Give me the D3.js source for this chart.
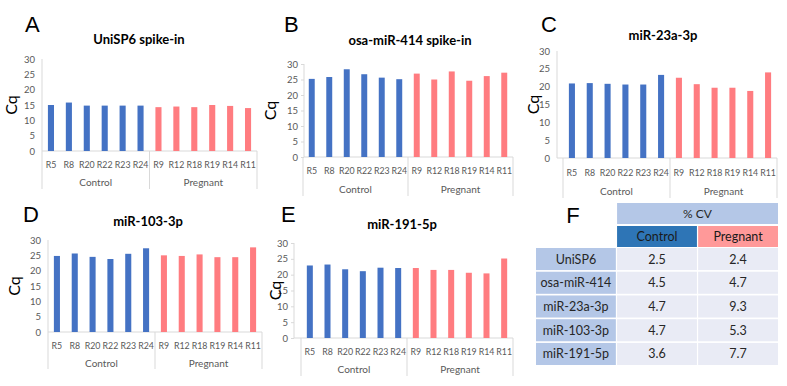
<!DOCTYPE html>
<html>
<head>
<meta charset="utf-8">
<script src="https://cdn.jsdelivr.net/npm/d3@7"></script>
<style>
  body { margin: 0; background: #fff; }
  svg { display: block; }
</style>
</head>
<body>
<div id="chart"></div>
<script>
const width = 787;
const height = 386;

// samples, in display order
const samples = ['R5', 'R8', 'R20', 'R22', 'R23', 'R24', 'R9', 'R12', 'R18', 'R19', 'R14', 'R11'];
const groups = ['Control', 'Pregnant'];
const yTicks = [0, 5, 10, 15, 20, 25, 30];

// Cq values
const uniSP6 = [15.0, 15.8, 14.8, 14.8, 14.8, 14.8, 14.3, 14.5, 14.3, 15.0, 14.7, 14.0];
const osa414 = [25.2, 25.8, 28.3, 26.7, 25.6, 25.1, 26.9, 25.0, 27.6, 24.6, 26.1, 27.2];
const mir23a = [20.9, 21.0, 20.8, 20.6, 20.6, 23.3, 22.5, 20.7, 19.7, 19.7, 18.8, 24.0];
const mir103 = [24.8, 25.6, 24.5, 23.8, 25.5, 27.3, 25.0, 24.8, 25.3, 24.4, 24.4, 27.6];
const mir191 = [22.9, 23.2, 21.7, 21.1, 22.2, 22.1, 22.1, 21.5, 21.5, 20.6, 20.4, 25.1];

// % CV table
const cvRows = ['UniSP6', 'osa-miR-414', 'miR-23a-3p', 'miR-103-3p', 'miR-191-5p'];
const cvControl = ['2.5', '4.5', '4.7', '4.7', '3.6'];
const cvPregnant = ['2.4', '4.7', '9.3', '5.3', '7.7'];

const blue = '#4472C4';
const red = '#FF7C80';
const gridGray = '#D9D9D9';
const textGray = '#595959';
const font = 'Lato, "Open Sans", sans-serif';

const panels = [
  {letter: 'A', title: 'UniSP6 spike-in', values: uniSP6, axisX: 42, band: [42, 257], y: [151, 59], cqX: 13,
   titleX: 139, titleY: 44, letterX: 25, letterY: 32, catY: 168, grpY: 186, sepBottom: 189, ticks: 0},
  {letter: 'B', title: 'osa-miR-414 spike-in', values: osa414, axisX: 304, band: [303, 513], y: [157, 64], cqX: 272,
   titleX: 410, titleY: 45, letterX: 284, letterY: 32, catY: 174, grpY: 193, sepBottom: 196, ticks: 3},
  {letter: 'C', title: 'miR-23a-3p', values: mir23a, axisX: 557, band: [563, 777], y: [158, 51], cqX: 535,
   titleX: 663, titleY: 40, letterX: 541, letterY: 32, catY: 176, grpY: 195, sepBottom: 198, ticks: 0},
  {letter: 'D', title: 'miR-103-3p', values: mir103, axisX: 48, band: [48, 262], y: [332, 240], cqX: 16,
   titleX: 148, titleY: 226, letterX: 23, letterY: 222, catY: 349, grpY: 367, sepBottom: 369, ticks: 0},
  {letter: 'E', title: 'miR-191-5p', values: mir191, axisX: 294, band: [301, 513], y: [338, 243], cqX: 277,
   titleX: 402, titleY: 229, letterX: 281, letterY: 222, catY: 355, grpY: 373, sepBottom: 376, ticks: 3}
];

const svg = d3.select('#chart')
  .append('svg')
    .attr('width', width)
    .attr('height', height);

panels.forEach(p => {
  const g = svg.append('g');

  const x = d3.scaleBand()
      .domain(samples)
      .range(p.band)
      .paddingInner(0.66)
      .paddingOuter(0.33);

  const y = d3.scaleLinear()
      .domain([0, 30])
      .range(p.y);

  // y axis
  const yAxis = g.append('g')
      .attr('transform', `translate(${p.axisX},0)`)
      .call(d3.axisLeft(y).tickValues(yTicks).tickSize(p.ticks).tickPadding(p.ticks ? 3 : 7));
  yAxis.select('.domain').attr('stroke', gridGray).attr('d', `M0,${p.y[1]}V${p.y[0]}`);
  yAxis.selectAll('.tick line').attr('stroke', gridGray);
  yAxis.selectAll('.tick text')
      .attr('fill', textGray)
      .style('font', `9.5px ${font}`);

  // x axis line
  g.append('line')
      .attr('x1', p.axisX).attr('x2', p.band[1])
      .attr('y1', p.y[0]).attr('y2', p.y[0])
      .attr('stroke', gridGray);

  // group separators
  const mid = (p.band[0] + p.band[1]) / 2;
  [p.band[0], mid, p.band[1]].forEach(sx => {
    g.append('line')
        .attr('x1', sx).attr('x2', sx)
        .attr('y1', p.y[0]).attr('y2', p.sepBottom)
        .attr('stroke', gridGray);
  });

  // bars
  g.selectAll('rect.bar')
    .data(p.values)
    .join('rect')
      .attr('class', 'bar')
      .attr('x', (d, i) => x(samples[i]))
      .attr('width', x.bandwidth())
      .attr('y', d => y(d))
      .attr('height', d => y(0) - y(d))
      .attr('fill', (d, i) => i < 6 ? blue : red);

  // sample labels
  g.selectAll('text.cat')
    .data(samples)
    .join('text')
      .attr('class', 'cat')
      .attr('x', d => x(d) + x.bandwidth() / 2)
      .attr('y', p.catY)
      .attr('text-anchor', 'middle')
      .attr('fill', textGray)
      .style('font', `8.8px ${font}`)
      .text(d => d);

  // group labels
  g.selectAll('text.grp')
    .data(groups)
    .join('text')
      .attr('class', 'grp')
      .attr('x', (d, i) => i === 0 ? (p.band[0] + mid) / 2 : (mid + p.band[1]) / 2)
      .attr('y', p.grpY)
      .attr('text-anchor', 'middle')
      .attr('fill', textGray)
      .style('font', `10px ${font}`)
      .text(d => d);

  // Cq label
  g.append('text')
      .attr('transform', `translate(${p.cqX + 4},${(p.y[0] + p.y[1]) / 2}) rotate(-90)`)
      .attr('text-anchor', 'middle')
      .attr('fill', '#000')
      .style('font', `16px ${font}`)
      .text('Cq');

  // title
  g.append('text')
      .attr('x', p.titleX)
      .attr('y', p.titleY)
      .attr('text-anchor', 'middle')
      .attr('fill', '#000')
      .style('font', `bold 13px ${font}`)
      .text(p.title);

  // panel letter
  g.append('text')
      .attr('x', p.letterX)
      .attr('y', p.letterY)
      .attr('fill', '#000')
      .style('font', '22px "Liberation Sans", Arial, sans-serif')
      .text(p.letter);
});

// ---- table F ----
const t = svg.append('g');
const colX = d3.scaleBand()
    .domain(['label', 'Control', 'Pregnant'])
    .range([536, 778])
    .paddingInner(0.015);
const rowY = d3.scaleBand()
    .domain(cvRows)
    .range([248, 365])
    .paddingInner(0.07);

t.append('text')
    .attr('x', 573)
    .attr('y', 223)
    .attr('text-anchor', 'middle')
    .attr('fill', '#000')
    .style('font', '22px "Liberation Sans", Arial, sans-serif')
    .text('F');

// % CV header
t.append('rect')
    .attr('x', colX('Control'))
    .attr('y', 203)
    .attr('width', colX('Pregnant') + colX.bandwidth() - colX('Control'))
    .attr('height', 21)
    .attr('fill', '#B4C7E7');
t.append('text')
    .attr('x', colX('Control') + colX.bandwidth() + colX.step() * 0.0075)
    .attr('y', 218)
    .attr('text-anchor', 'middle')
    .attr('fill', '#262626')
    .style('font', `12px ${font}`)
    .text('% CV');

// group header
const headColors = {Control: '#2E75B6', Pregnant: '#FF9999'};
groups.forEach(grp => {
  t.append('rect')
      .attr('x', colX(grp))
      .attr('y', 226)
      .attr('width', colX.bandwidth())
      .attr('height', 21)
      .attr('fill', headColors[grp]);
  t.append('text')
      .attr('x', colX(grp) + colX.bandwidth() / 2)
      .attr('y', 241)
      .attr('text-anchor', 'middle')
      .attr('fill', '#1a1a1a')
      .style('font', `12.5px ${font}`)
      .text(grp);
});

// body rows
cvRows.forEach((row, i) => {
  const cells = [
    {col: 'label', text: row, fill: '#B4C7E7'},
    {col: 'Control', text: cvControl[i], fill: '#E9EBF5'},
    {col: 'Pregnant', text: cvPregnant[i], fill: '#E9EBF5'}
  ];
  cells.forEach(c => {
    t.append('rect')
        .attr('x', colX(c.col))
        .attr('y', rowY(row))
        .attr('width', colX.bandwidth())
        .attr('height', rowY.bandwidth())
        .attr('fill', c.fill);
    t.append('text')
        .attr('x', colX(c.col) + colX.bandwidth() / 2)
        .attr('y', rowY(row) + rowY.bandwidth() / 2 + 4.5)
        .attr('text-anchor', 'middle')
        .attr('fill', '#262626')
        .style('font', `12.5px ${font}`)
        .text(c.text);
  });
});
</script>
</body>
</html>
